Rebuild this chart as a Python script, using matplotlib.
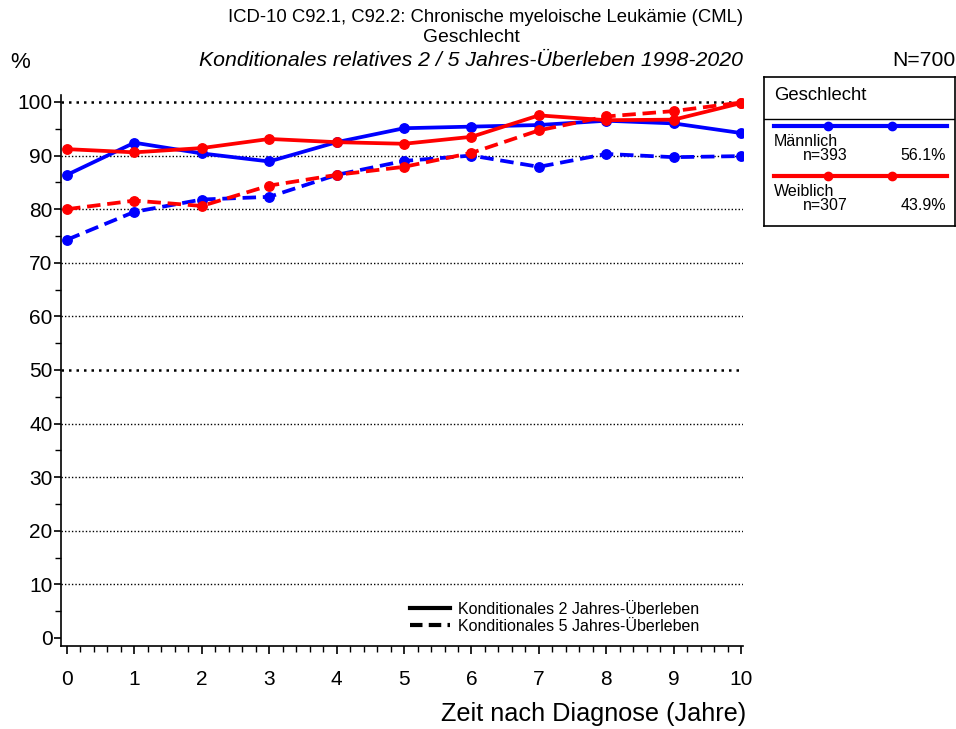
import matplotlib
matplotlib.use("Agg")
import matplotlib.pyplot as plt
from matplotlib.lines import Line2D
from matplotlib.ticker import MultipleLocator

plt.rcParams['font.family'] = ['Liberation Sans', 'DejaVu Sans']

# Jahre nach Diagnose
jahre = [0, 1, 2, 3, 4, 5, 6, 7, 8, 9, 10]

# konditionales 2 Jahres-Ueberleben (%)
m_2j = [86.4, 92.4, 90.4, 88.9, 92.5, 95.1, 95.4, 95.7, 96.5, 96.0, 94.2]
w_2j = [91.2, 90.6, 91.4, 93.1, 92.5, 92.2, 93.5, 97.5, 96.6, 96.7, 99.8]

# konditionales 5 Jahres-Ueberleben (%)
m_5j = [74.3, 79.5, 81.8, 82.3, 86.4, 89.0, 90.0, 87.9, 90.3, 89.7, 89.9]
w_5j = [80.0, 81.6, 80.6, 84.4, 86.4, 87.9, 90.5, 94.7, 97.3, 98.3, 99.9]

gruppen = ["Männlich", "Weiblich"]
n_gruppe = [393, 307]
anteil = ["56.1%", "43.9%"]
farben = ["#0000ff", "#ff0000"]

W, H = 956, 729
fig = plt.figure(figsize=(W / 100, H / 100), dpi=100)

def fx(px):
    return px / W

def fy(py):
    return 1 - py / H

ax = fig.add_axes([fx(61), fy(646), fx(742.5) - fx(61), fy(95) - fy(646)])
ax.set_xlim(-0.089, 10.02)
ax.set_ylim(-1.5, 101.3)

for y in range(10, 101, 10):
    dick = y in (50, 100)
    ax.axhline(y, color="black", lw=1.8 if dick else 1.0,
               ls=(0, (1, 2)) if dick else (0, (1, 1.5)), zorder=1)

dash = (0, (3.6, 1.8))
for (zwei, fuenf), c in zip([(m_2j, m_5j), (w_2j, w_5j)], farben):
    ax.plot(jahre, zwei, color=c, lw=2.7, marker="o", ms=6.8, zorder=3)
    ax.plot(jahre, fuenf, color=c, lw=2.7, ls=dash, marker="o", ms=6.8, zorder=3)

for s in ["top", "right"]:
    ax.spines[s].set_visible(False)
ax.spines["left"].set_linewidth(1.2)
ax.spines["bottom"].set_linewidth(1.2)

ax.set_xticks(jahre)
ax.xaxis.set_minor_locator(MultipleLocator(0.2))
ax.set_yticks(range(0, 101, 10))
ax.yaxis.set_minor_locator(MultipleLocator(5))
ax.tick_params(axis="x", which="major", length=6, width=1.2, pad=11, labelsize=15)
ax.tick_params(axis="x", which="minor", length=4, width=1)
ax.tick_params(axis="y", which="major", length=5, width=1.2, pad=1, labelsize=15)
ax.tick_params(axis="y", which="minor", length=4, width=1)

# Legende Linientyp
stil = [Line2D([], [], color="black", lw=3),
        Line2D([], [], color="black", lw=3, ls=(0, (3, 1.5)))]
fig.legend(stil, ["Konditionales 2 Jahres-Überleben", "Konditionales 5 Jahres-Überleben"],
           loc="upper left", bbox_to_anchor=(fx(410), fy(602)), bbox_transform=fig.transFigure,
           frameon=False, fontsize=11.5, handlelength=2.5, handletextpad=0.5,
           labelspacing=0.12, borderpad=0, borderaxespad=0)

# Titel
fig.text(fx(743), fy(18), "ICD-10 C92.1, C92.2: Chronische myeloische Leukämie (CML)",
         ha="right", va="center", fontsize=13.3)
fig.text(fx(471), fy(37), "Geschlecht", ha="center", va="center", fontsize=13.9)
fig.text(fx(743), fy(60), "Konditionales relatives 2 / 5 Jahres-Überleben 1998-2020",
         ha="right", va="center", fontsize=15.3, style="italic")
fig.text(fx(10), fy(63), "%", ha="left", va="center", fontsize=16)
fig.text(fx(955), fy(60), "N=700", ha="right", va="center", fontsize=15.2)
fig.text(fx(746), fy(714), "Zeit nach Diagnose (Jahre)", ha="right", va="center", fontsize=18.2)

# Legende Gruppen
lg = fig.add_axes([fx(764), fy(225.5), fx(955) - fx(764), fy(76.5) - fy(225.5)])
lg.set_xlim(764, 955)
lg.set_ylim(225.5, 76.5)
lg.set_xticks([])
lg.set_yticks([])
for s in lg.spines.values():
    s.set_linewidth(1.2)
lg.axhline(119, color="black", lw=1)
lg.text(774, 96, "Geschlecht", ha="left", va="center", fontsize=13.3)
for i, (g, n, p, c) in enumerate(zip(gruppen, n_gruppe, anteil, farben)):
    y0 = 126 + i * 50
    lg.plot([774, 947], [y0, y0], color=c, lw=3)
    lg.plot([828, 892], [y0, y0], color=c, lw=0, marker="o", ms=6)
    lg.text(774, y0 + 15, g, ha="left", va="center", fontsize=11.5)
    lg.text(803, y0 + 30, "n=%d" % n, ha="left", va="center", fontsize=11.5)
    lg.text(946, y0 + 30, p, ha="right", va="center", fontsize=11.5)

fig.savefig("out.png", dpi=100)
